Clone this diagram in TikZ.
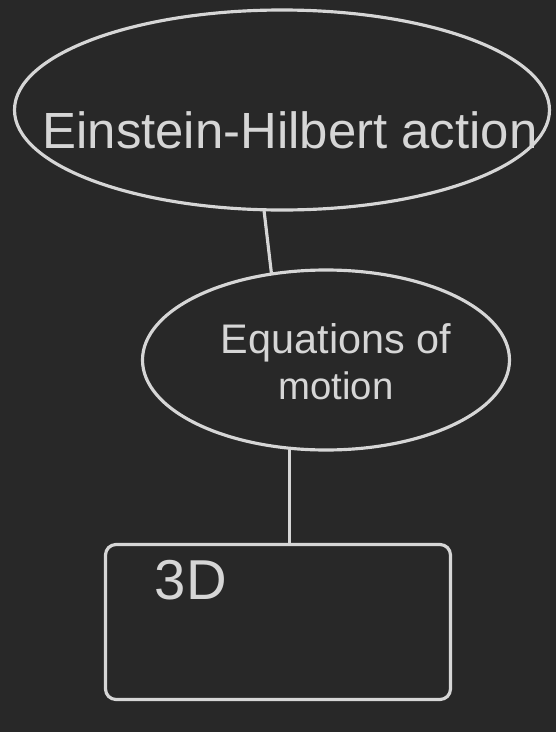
\documentclass[tikz,border=0pt]{standalone}
\usepackage{fontspec}
\setmainfont{Liberation Sans}
\usetikzlibrary{shapes.geometric,positioning,calc}
\definecolor{boardFill}{RGB}{40,40,40}
\definecolor{chalkLine}{RGB}{214,214,214}
\tikzset{
  chalkellipse/.style={ellipse, draw=chalkLine, line width=0.9pt, inner sep=0pt},
  chalkbox/.style={rectangle, draw=chalkLine, line width=0.9pt, inner sep=0pt,
    rounded corners=3pt},
  chalklabel/.style={text=chalkLine, inner sep=1pt, align=center},
  chalklink/.style={draw=chalkLine, line width=0.9pt, line cap=round},
}
\begin{document}
\begin{tikzpicture}[x=1cm,y=1cm]
  % --- board ---
  \fill[boardFill] (0,0) rectangle (5.56,7.32);
  \useasboundingbox (0,0) rectangle (5.56,7.32);

  % --- nodes ---
  \node[chalkellipse, minimum width=5.35cm, minimum height=2.0cm] (eh) at (2.82,6.22) {};
  \node[chalklabel, font=\fontsize{18}{20}\selectfont] (ehtext)
    at ($(eh.center)+(0.08,-0.2)$) {\resizebox{4.95cm}{!}{Einstein-Hilbert action}};
  \node[chalkellipse, minimum width=3.67cm, minimum height=1.8cm] (eom) at (3.26,3.72) {};
  \node[chalklabel, font=\fontsize{17}{19}\selectfont] (eomtext)
    at ($(eom.center)+(0.1,-0.02)$)
    {\resizebox{2.3cm}{!}{Equations of}\\[-6pt]\resizebox{1.15cm}{!}{motion}};
  \node[chalkbox, minimum width=3.45cm, minimum height=1.55cm] (space) at (2.78,1.10) {};
  \node[chalklabel, font=\fontsize{16}{19}\selectfont] (dim)
    at ($(space.north west)+(0.87,-0.37)$) {3D};

  % --- links ---
  \draw[chalklink] (eh.260) -- (eom.122);
  \draw[chalklink] (eom.248) -- (eom.248 |- space.north);
\end{tikzpicture}
\end{document}
